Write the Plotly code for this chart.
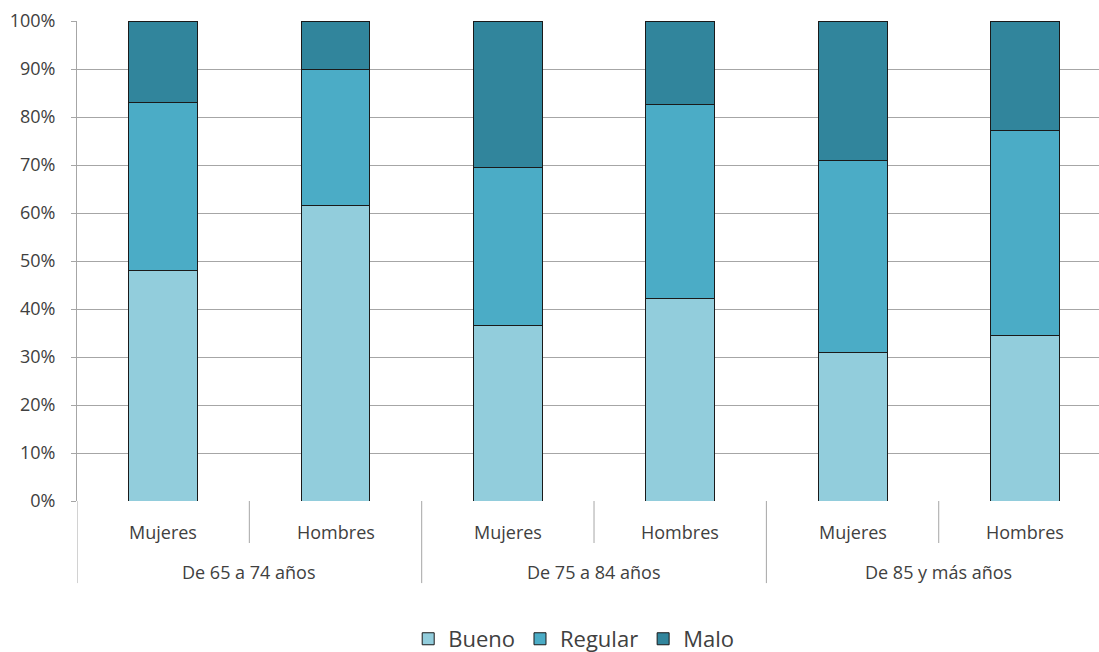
import plotly.graph_objects as go

groups = ["De 65 a 74 años", "De 75 a 84 años", "De 85 y más años"]
sexes = ["Mujeres", "Hombres"]
categories = [(g, s) for g in groups for s in sexes]

bueno = [48.1, 61.5, 36.5, 42.1, 31.0, 34.4]
regular = [35.0, 28.3, 32.9, 40.6, 40.0, 42.7]
malo = [16.9, 10.2, 30.6, 17.3, 29.0, 22.9]

series = [("Bueno", bueno, "#92CDDC"), ("Regular", regular, "#4BACC6"), ("Malo", malo, "#31859C")]

FONT = "Open Sans"
TXT = "#404040"
GRID = "#A6A6A6"

x = list(range(len(categories)))
fig = go.Figure()
for name, vals, col in series:
    fig.add_trace(go.Bar(
        x=x, y=vals, name=name, width=0.4,
        marker=dict(color=col, line=dict(color="#1a1a1a", width=1)),
    ))

# category labels
for i, (g, s) in enumerate(categories):
    fig.add_annotation(x=i, y=-0.0646, xref="x", yref="paper", text=s, showarrow=False,
                       font=dict(family=FONT, size=18, color=TXT), yanchor="middle")
for gi, g in enumerate(groups):
    fig.add_annotation(x=gi * 2 + 0.5, y=-0.148, xref="x", yref="paper", text=g, showarrow=False,
                       font=dict(family=FONT, size=18, color=TXT), yanchor="middle")

# dividers
for i in range(len(categories) + 1):
    bx = i - 0.5
    is_group = (i % 2 == 0)
    fig.add_shape(type="line", xref="x", yref="paper", x0=bx, x1=bx, y0=0,
                  y1=-0.171 if is_group else -0.0875,
                  line=dict(color=GRID, width=1))

fig.update_layout(
    barmode="stack",
    width=1099, height=652,
    margin=dict(l=77, r=0, t=21, b=151, autoexpand=False),
    paper_bgcolor="white", plot_bgcolor="white",
    xaxis=dict(range=[-0.5, 5.43], showticklabels=False, showgrid=False, zeroline=False,
               showline=False, ticks="", automargin=False),
    yaxis=dict(range=[0, 100], dtick=10, ticksuffix="%", showgrid=True, gridcolor=GRID, gridwidth=1,
               showline=True, linecolor=GRID, linewidth=1, ticks="outside", ticklen=5, tickcolor=GRID,
               zeroline=False, ticklabelstandoff=12, automargin=False,
               tickfont=dict(family=FONT, size=18, color=TXT)),
    legend=dict(orientation="h", x=0.486, xanchor="center", y=0.02, yanchor="middle", yref="container",
                font=dict(family=FONT, size=22, color=TXT), traceorder="normal"),
    showlegend=True,
)

fig.write_html("out.html")
